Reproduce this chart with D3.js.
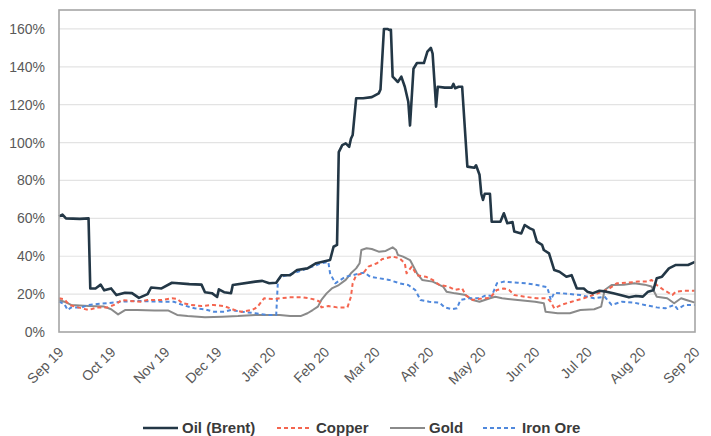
<!DOCTYPE html>
<html>
<head>
<meta charset="utf-8">
<script src="https://cdn.jsdelivr.net/npm/d3@7"></script>
<style>
  body { margin: 0; background: #fff; }
  svg { font-family: "Liberation Sans", Arial, sans-serif; }
</style>
</head>
<body>
<svg id="chart" width="711" height="436"></svg>
<script>
// volatility, %
const oil = [
  ["2019-09-01", 61], ["2019-09-03", 62], ["2019-09-05", 60], ["2019-09-13", 59.7], ["2019-09-18", 60],
  ["2019-09-19", 23], ["2019-09-22", 23], ["2019-09-25", 25], ["2019-09-27", 22], ["2019-10-01", 23],
  ["2019-10-04", 19.5], ["2019-10-09", 20.7], ["2019-10-13", 20.5], ["2019-10-17", 18], ["2019-10-22", 20],
  ["2019-10-24", 23.5], ["2019-10-30", 23], ["2019-11-05", 26], ["2019-11-15", 25.3], ["2019-11-22", 25],
  ["2019-11-24", 21], ["2019-11-28", 20.5], ["2019-12-01", 18.5], ["2019-12-02", 22.5], ["2019-12-05", 21],
  ["2019-12-09", 20.5], ["2019-12-10", 24.8], ["2019-12-23", 26.6], ["2019-12-27", 27], ["2019-12-31", 25.7],
  ["2020-01-04", 26], ["2020-01-07", 30], ["2020-01-12", 30], ["2020-01-16", 32.7], ["2020-01-22", 33.6],
  ["2020-01-27", 36.3], ["2020-02-04", 38], ["2020-02-06", 45], ["2020-02-08", 46], ["2020-02-09", 95],
  ["2020-02-11", 98.7], ["2020-02-13", 99.6], ["2020-02-15", 97.8], ["2020-02-16", 102], ["2020-02-17", 104],
  ["2020-02-19", 123.4], ["2020-02-23", 123.4], ["2020-02-28", 124], ["2020-03-03", 126], ["2020-03-04", 128],
  ["2020-03-06", 160], ["2020-03-08", 160], ["2020-03-09", 159.5], ["2020-03-10", 159.5], ["2020-03-11", 134.8],
  ["2020-03-14", 132], ["2020-03-16", 134.8], ["2020-03-18", 129.5], ["2020-03-20", 121.6], ["2020-03-21", 109],
  ["2020-03-23", 139], ["2020-03-25", 142], ["2020-03-29", 142], ["2020-03-31", 148], ["2020-04-02", 150],
  ["2020-04-03", 147], ["2020-04-05", 119], ["2020-04-06", 129.5], ["2020-04-10", 129], ["2020-04-14", 129],
  ["2020-04-15", 131], ["2020-04-16", 128.7], ["2020-04-18", 129.5], ["2020-04-20", 129.5], ["2020-04-23", 87.3],
  ["2020-04-27", 86.7], ["2020-04-28", 88], ["2020-04-30", 83], ["2020-05-01", 73], ["2020-05-02", 69.7],
  ["2020-05-03", 73], ["2020-05-06", 73], ["2020-05-07", 58.2], ["2020-05-12", 58.2], ["2020-05-14", 62.7],
  ["2020-05-16", 57.4], ["2020-05-19", 58], ["2020-05-20", 53], ["2020-05-24", 52], ["2020-05-26", 56.5],
  ["2020-05-29", 54.7], ["2020-05-31", 53.9], ["2020-06-02", 47.7], ["2020-06-05", 46], ["2020-06-06", 43.3],
  ["2020-06-09", 41.5], ["2020-06-12", 32.7], ["2020-06-15", 31.8], ["2020-06-19", 29.2], ["2020-06-22", 30],
  ["2020-06-25", 23], ["2020-06-29", 23], ["2020-07-01", 21.3], ["2020-07-04", 20.4], ["2020-07-08", 21.8],
  ["2020-07-12", 21.3], ["2020-07-16", 20.4], ["2020-07-20", 19.5], ["2020-07-25", 18.3], ["2020-07-29", 19],
  ["2020-08-02", 18.7], ["2020-08-05", 21.3], ["2020-08-08", 22], ["2020-08-10", 28.4], ["2020-08-13", 29.2],
  ["2020-08-17", 33.6], ["2020-08-21", 35.4], ["2020-08-28", 35.4], ["2020-09-01", 37]
];

const copper = [
  ["2019-09-01", 17.8], ["2019-09-04", 17.3], ["2019-09-07", 14.3], ["2019-09-12", 13], ["2019-09-18", 11.6],
  ["2019-09-23", 13], ["2019-09-29", 13], ["2019-10-04", 14.8], ["2019-10-07", 16.9], ["2019-10-12", 16.4],
  ["2019-10-18", 16], ["2019-10-22", 16.9], ["2019-10-30", 16.9], ["2019-11-05", 17.8], ["2019-11-08", 17.5],
  ["2019-11-11", 15.2], ["2019-11-16", 14.3], ["2019-11-22", 13.7], ["2019-11-29", 14.3], ["2019-12-05", 13.7],
  ["2019-12-11", 11.6], ["2019-12-15", 10.7], ["2019-12-21", 11.6], ["2019-12-24", 13], ["2019-12-28", 17.8],
  ["2020-01-03", 17.3], ["2020-01-06", 17.8], ["2020-01-12", 18.3], ["2020-01-19", 18.3], ["2020-01-23", 17.8],
  ["2020-01-27", 16.9], ["2020-01-29", 16], ["2020-01-30", 13], ["2020-02-03", 13.7], ["2020-02-08", 13],
  ["2020-02-14", 13], ["2020-02-16", 18.6], ["2020-02-17", 25.7], ["2020-02-19", 30], ["2020-02-23", 31],
  ["2020-02-26", 34.5], ["2020-03-02", 36.3], ["2020-03-05", 38.5], ["2020-03-11", 39.8], ["2020-03-15", 38.9],
  ["2020-03-18", 36.3], ["2020-03-19", 31], ["2020-03-22", 34.5], ["2020-03-25", 30], ["2020-03-30", 29.2],
  ["2020-04-03", 27.5], ["2020-04-07", 24.8], ["2020-04-12", 24], ["2020-04-16", 22.2], ["2020-04-20", 23],
  ["2020-04-22", 19.5], ["2020-04-26", 16.9], ["2020-05-02", 17.8], ["2020-05-06", 18], ["2020-05-10", 22.2],
  ["2020-05-14", 23], ["2020-05-17", 22.2], ["2020-05-20", 19.5], ["2020-05-26", 18.6], ["2020-06-02", 17.8],
  ["2020-06-08", 17.8], ["2020-06-10", 16], ["2020-06-12", 12.5], ["2020-06-16", 14.3], ["2020-06-22", 16],
  ["2020-06-29", 17.8], ["2020-07-07", 20.4], ["2020-07-13", 22.5], ["2020-07-18", 25.7], ["2020-07-24", 26],
  ["2020-07-30", 26.6], ["2020-08-05", 26.6], ["2020-08-07", 27.5], ["2020-08-10", 24.8], ["2020-08-14", 22.2],
  ["2020-08-19", 19.5], ["2020-08-21", 21.3], ["2020-08-26", 21.8], ["2020-09-01", 21.8]
];

const gold = [
  ["2019-09-01", 16.9], ["2019-09-04", 16], ["2019-09-08", 14.3], ["2019-09-18", 13.7], ["2019-09-27", 13.4],
  ["2019-10-01", 12], ["2019-10-05", 9.3], ["2019-10-09", 11.6], ["2019-10-16", 11.6], ["2019-10-26", 11.3],
  ["2019-11-03", 11.3], ["2019-11-08", 9], ["2019-11-14", 8.4], ["2019-11-24", 7.8], ["2019-12-04", 8.1],
  ["2019-12-13", 8.4], ["2019-12-23", 9], ["2020-01-02", 9], ["2020-01-06", 9], ["2020-01-12", 8.4],
  ["2020-01-18", 8.4], ["2020-01-22", 9.9], ["2020-01-25", 11.6], ["2020-01-28", 13.4], ["2020-01-30", 16.9],
  ["2020-02-02", 20.4], ["2020-02-05", 23], ["2020-02-09", 24.8], ["2020-02-13", 27.5], ["2020-02-16", 31],
  ["2020-02-19", 33.6], ["2020-02-21", 36.3], ["2020-02-22", 43.3], ["2020-02-25", 44.2], ["2020-02-28", 43.8],
  ["2020-03-03", 42.4], ["2020-03-07", 42.8], ["2020-03-11", 44.7], ["2020-03-13", 43.3], ["2020-03-14", 40.7],
  ["2020-03-17", 39.8], ["2020-03-21", 38], ["2020-03-22", 36.3], ["2020-03-25", 31], ["2020-03-28", 27.5],
  ["2020-04-03", 26.6], ["2020-04-09", 24], ["2020-04-11", 21.3], ["2020-04-16", 20.4], ["2020-04-22", 19.5],
  ["2020-04-26", 16.9], ["2020-04-30", 16], ["2020-05-06", 17.8], ["2020-05-09", 18.6], ["2020-05-13", 17.8],
  ["2020-05-22", 16.9], ["2020-06-01", 16], ["2020-06-06", 15.2], ["2020-06-07", 10.7], ["2020-06-14", 9.9],
  ["2020-06-21", 9.9], ["2020-06-27", 11.6], ["2020-07-05", 12], ["2020-07-09", 13.4], ["2020-07-11", 22.2],
  ["2020-07-15", 24.8], ["2020-07-22", 25], ["2020-07-28", 25.7], ["2020-08-03", 25], ["2020-08-07", 24],
  ["2020-08-10", 18.6], ["2020-08-16", 17.8], ["2020-08-20", 15.2], ["2020-08-24", 17.8], ["2020-08-27", 16.9],
  ["2020-09-01", 15.5]
];

const ironOre = [
  ["2019-09-01", 16], ["2019-09-04", 14.8], ["2019-09-06", 11.6], ["2019-09-08", 13], ["2019-09-14", 13],
  ["2019-09-18", 14.3], ["2019-09-23", 14.8], ["2019-09-29", 15.2], ["2019-10-07", 16], ["2019-10-16", 16.4],
  ["2019-10-30", 16], ["2019-11-06", 16], ["2019-11-11", 14.3], ["2019-11-18", 12.5], ["2019-11-24", 12],
  ["2019-11-29", 10.7], ["2019-12-05", 10.7], ["2019-12-09", 11.6], ["2019-12-15", 10.7], ["2019-12-23", 9.9],
  ["2019-12-30", 9], ["2020-01-04", 9], ["2020-01-05", 27.5], ["2020-01-07", 29.2], ["2020-01-15", 31.3],
  ["2020-01-22", 33.6], ["2020-01-30", 36.3], ["2020-02-03", 37], ["2020-02-04", 31], ["2020-02-07", 25.7],
  ["2020-02-10", 27.5], ["2020-02-13", 29.2], ["2020-02-17", 30], ["2020-02-21", 31], ["2020-02-24", 31.3],
  ["2020-02-27", 29.2], ["2020-03-03", 28.4], ["2020-03-09", 27.5], ["2020-03-15", 25.7], ["2020-03-20", 24.8],
  ["2020-03-24", 22.2], ["2020-03-27", 16.9], ["2020-04-01", 16], ["2020-04-07", 15.5], ["2020-04-10", 13],
  ["2020-04-14", 12], ["2020-04-17", 12.5], ["2020-04-19", 16.9], ["2020-04-24", 17.8], ["2020-04-30", 17.8],
  ["2020-05-04", 19.5], ["2020-05-07", 19], ["2020-05-10", 25.7], ["2020-05-14", 26.6], ["2020-05-22", 26],
  ["2020-05-27", 25.7], ["2020-06-02", 24.8], ["2020-06-08", 23.6], ["2020-06-10", 16.9], ["2020-06-12", 20.7],
  ["2020-06-17", 20.4], ["2020-06-27", 19.5], ["2020-07-05", 17.8], ["2020-07-11", 18.6], ["2020-07-15", 14.3],
  ["2020-07-21", 16], ["2020-07-28", 15.5], ["2020-08-03", 14.3], ["2020-08-10", 13], ["2020-08-15", 12.5],
  ["2020-08-20", 14.3], ["2020-08-22", 12.1], ["2020-08-26", 14.3], ["2020-09-01", 14.3]
];

const seriesNames = ["Oil (Brent)", "Copper", "Gold", "Iron Ore"];
const yTicks = [0, 20, 40, 60, 80, 100, 120, 140, 160];

const colors = ["#233746", "#f4654f", "#8a8a8a", "#4f88dc"];
const dashes = [null, "4,3", null, "4,3"];
const widths = [2.6, 2, 2, 2];

const svg = d3.select("#chart");
const margin = {top: 10, right: 16, bottom: 104, left: 59};
const width = 711 - margin.left - margin.right;
const height = 436 - margin.top - margin.bottom;

const parse = d3.timeParse("%Y-%m-%d");
const x = d3.scaleTime()
  .domain([parse("2019-09-01"), parse("2020-09-01")])
  .range([0, width]);
const y = d3.scaleLinear().domain([0, 170]).range([height, 0]);

const g = svg.append("g")
  .attr("transform", "translate(" + margin.left + "," + margin.top + ")");

// grid
g.selectAll(".grid")
  .data(yTicks.filter(d => d > 0))
  .enter().append("line")
    .attr("x1", 0).attr("x2", width)
    .attr("y1", d => y(d)).attr("y2", d => y(d))
    .attr("stroke", "#e3e3e3")
    .attr("stroke-width", 1.2);

// y labels
g.append("g")
    .call(d3.axisLeft(y).tickValues(yTicks).tickSize(0).tickPadding(14).tickFormat(d => d + "%"))
    .call(a => a.select(".domain").remove())
  .selectAll("text")
    .attr("fill", "#595959")
    .style("font-size", "14px");

// x labels
const xAxis = g.append("g")
    .attr("transform", "translate(0," + height + ")")
    .call(d3.axisBottom(x).ticks(d3.timeMonth.every(1)).tickSize(0).tickFormat(d3.timeFormat("%b %y")));
xAxis.select(".domain").remove();
xAxis.selectAll("text")
    .attr("fill", "#595959")
    .style("font-size", "14px")
    .style("text-anchor", "end")
    .attr("x", 0).attr("y", 0).attr("dy", 0)
    .attr("transform", "translate(5,21) rotate(-45)");

// lines
const line = d3.line()
  .x(d => x(parse(d[0])))
  .y(d => y(d[1]));

const data = [oil, copper, gold, ironOre];
// draw lower series first, oil on top
[2, 3, 1, 0].forEach(i => {
  g.append("path")
    .datum(data[i])
    .attr("fill", "none")
    .attr("stroke", colors[i])
    .attr("stroke-width", widths[i])
    .attr("stroke-dasharray", dashes[i])
    .attr("stroke-linejoin", "round")
    .attr("d", line);
});

// frame
g.append("rect")
  .attr("width", width).attr("height", height)
  .attr("fill", "none")
  .attr("stroke", "#a6a6a6")
  .attr("stroke-width", 1.6);

// legend
const legendX = [143, 277, 390, 483];
const legend = svg.append("g").attr("transform", "translate(0,428)");
seriesNames.forEach((name, i) => {
  const item = legend.append("g").attr("transform", "translate(" + legendX[i] + ",0)");
  item.append("line")
    .attr("x1", 0).attr("x2", 35)
    .attr("stroke", colors[i])
    .attr("stroke-width", widths[i])
    .attr("stroke-dasharray", dashes[i]);
  item.append("text")
    .attr("x", 39).attr("dy", "0.35em")
    .attr("fill", "#3a3a3a")
    .style("font-size", "15px")
    .style("font-weight", "bold")
    .text(name);
});
</script>
</body>
</html>
